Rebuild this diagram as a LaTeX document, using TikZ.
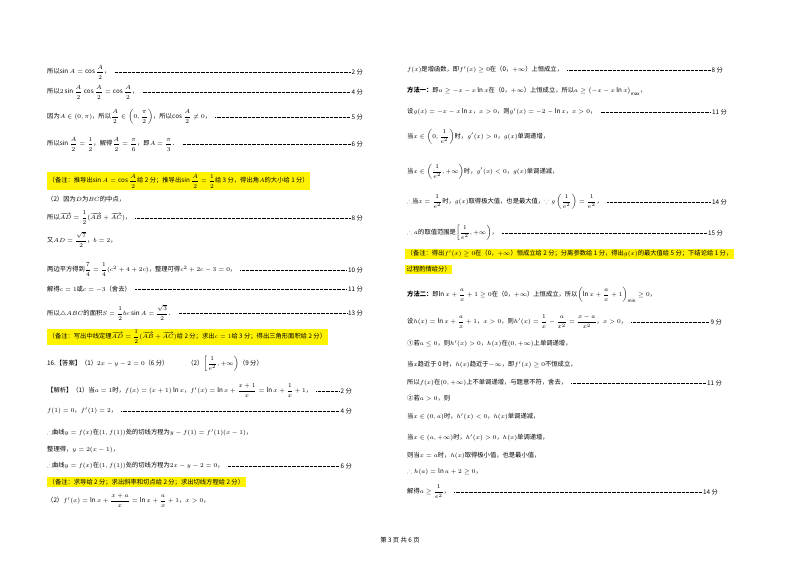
\documentclass[tikz,border=0pt]{standalone}
\usepackage{amsmath,amssymb}
\usepackage{fontspec}
\setmainfont{Noto Sans CJK SC}
\begin{document}
\fontsize{6.3}{8}\selectfont
\begin{tikzpicture}[x=1pt,y=-1pt,
 txt/.style={anchor=west,inner sep=1pt},
 sc/.style={anchor=east,inner sep=1pt},
 lead/.style={line width=0.4pt,dash pattern=on 0.5pt off 0.8pt},
 note/.style={anchor=west,fill=yellow,inner sep=1.5pt}]
\useasboundingbox (0,0) rectangle (800,566);
\fill[white] (0,0) rectangle (800,566);
\newcommand\scl[5]{\node[txt] (#1) at (#2) {#3}; \node[sc] (#1s) at (#4) {#5}; \draw[lead] (#1.east)++(3,0) -- (#1s.west);}
% left column
\scl{a1}{46,72}{所以$\sin A=\cos\dfrac{A}{2}$，}{364,72}{2 分}
\scl{a2}{46,92}{所以$2\sin\dfrac{A}{2}\cos\dfrac{A}{2}=\cos\dfrac{A}{2}$，}{364,92}{4 分}
\scl{a3}{46,117}{因为$A\in(0,\pi)$，所以$\dfrac{A}{2}\in\left(0,\dfrac{\pi}{2}\right)$，所以$\cos\dfrac{A}{2}\neq0$，}{364,117}{5 分}
\scl{a4}{46,144}{所以$\sin\dfrac{A}{2}=\dfrac12$，解得$\dfrac{A}{2}=\dfrac{\pi}{6}$，即$A=\dfrac{\pi}{3}$．}{364,144}{6 分}
\node[note] (n1) at (47,181) {（备注：推导出$\sin A=\cos\dfrac{A}{2}$给 2 分；推导出$\sin\dfrac{A}{2}=\dfrac12$给 3 分，得出角$A$的大小给 1 分）};
\node[txt] (a5) at (46,199) {（2）因为$D$为$BC$的中点，};
\scl{a6}{46,218}{所以$\overrightarrow{AD}=\dfrac12(\overrightarrow{AB}+\overrightarrow{AC})$，}{364,218}{8 分}
\node[txt] (a7) at (46,240) {又$AD=\dfrac{\sqrt7}{2}$，$b=2$，};
\scl{a8}{46,270}{两边平方得到$\dfrac74=\dfrac14(c^2+4+2c)$，整理可得$c^2+2c-3=0$，}{364,270}{10 分}
\scl{a9}{46,289}{解得$c=1$或$c=-3$（舍去）}{364,289}{11 分}
\scl{a10}{46,313}{所以$\triangle ABC$的面积$S=\dfrac12bc\sin A=\dfrac{\sqrt3}{2}$．}{364,313}{13 分}
\node[note] (n2) at (47,337) {（备注：写出中线定理$\overrightarrow{AD}=\dfrac12(\overrightarrow{AB}+\overrightarrow{AC})$给 2 分；求出$c=1$给 3 分；得出三角形面积给 2 分）};
\node[txt] (a11) at (46,364) {16.【答案】（1）$2x-y-2=0$（6 分）\qquad\quad（2）$\left[\dfrac{1}{e^2},+\infty\right)$（9 分）};
\scl{a12}{46,391}{【解析】（1）当$a=1$时，$f(x)=(x+1)\ln x$，$f'(x)=\ln x+\dfrac{x+1}{x}=\ln x+\dfrac1x+1$，}{353,391}{2 分}
\scl{a13}{46,411}{$f(1)=0$，$f'(1)=2$，}{353,411}{4 分}
\node[txt] (a14) at (46,433) {$\therefore$曲线$y=f(x)$在$(1,f(1))$处的切线方程为$y-f(1)=f'(1)(x-1)$，};
\node[txt] (a15) at (46,450) {整理得，$y=2(x-1)$，};
\scl{a16}{46,466}{$\therefore$曲线$y=f(x)$在$(1,f(1))$处的切线方程为$2x-y-2=0$，}{353,466}{6 分}
\node[note] (n3) at (47,482) {（备注：求导给 2 分；求出斜率和切点给 2 分；求出切线方程给 2 分）};
\node[txt] (a17) at (46,501) {（2）$f'(x)=\ln x+\dfrac{x+a}{x}=\ln x+\dfrac{a}{x}+1$，$x>0$，};
% right column
\scl{b1}{406,70}{$f(x)$是增函数，即$f'(x)\geq0$在（0，$+\infty$）上恒成立，}{724,70}{8 分}
\node[txt] (b2) at (406,91) {\textbf{方法一：}即$a\geq-x-x\ln x$在（0，$+\infty$）上恒成立，所以$a\geq\left(-x-x\ln x\right)_{\max}$，};
\scl{b3}{406,112}{设$g(x)=-x-x\ln x$，$x>0$，则$g'(x)=-2-\ln x$，$x>0$，}{728,112}{11 分}
\node[txt] (b4) at (406,137) {当$x\in\left(0,\dfrac{1}{e^2}\right)$时，$g'(x)>0$，$g(x)$单调递增，};
\node[txt] (b5) at (406,172) {当$x\in\left(\dfrac{1}{e^2},+\infty\right)$时，$g'(x)<0$，$g(x)$单调递减，};
\scl{b6}{406,202}{$\therefore$当$x=\dfrac{1}{e^2}$时，$g(x)$取得极大值，也是最大值，$\because g\left(\dfrac{1}{e^2}\right)=\dfrac{1}{e^2}$，}{728,202}{14 分}
\scl{b7}{406,233}{$\therefore a$的取值范围是$\left[\dfrac{1}{e^2},+\infty\right)$，}{724,233}{15 分}
\node[note] (n4) at (405,254) {（备注：得出$f'(x)\geq0$在（0，$+\infty$）恒成立给 2 分；分离参数给 1 分，得出$g(x)$的最大值给 5 分；下结论给 1 分，};
\node[note] (n5) at (405,269) {过程酌情给分）};
\node[txt] (b8) at (406,295) {\textbf{方法二：}即$\ln x+\dfrac{a}{x}+1\geq0$在（0，$+\infty$）上恒成立，所以$\left(\ln x+\dfrac{a}{x}+1\right)_{\min}\geq0$，};
\scl{b9}{406,322}{设$h(x)=\ln x+\dfrac{a}{x}+1$，$x>0$，则$h'(x)=\dfrac1x-\dfrac{a}{x^2}=\dfrac{x-a}{x^2}$，$x>0$，}{723,322}{9 分}
\node[txt] (b10) at (406,344) {①若$a\leq0$，则$h'(x)>0$，$h(x)$在$(0,+\infty)$上单调递增，};
\node[txt] (b11) at (406,365) {当$x$趋近于 0 时，$h(x)$趋近于$-\infty$，即$f'(x)\geq0$不恒成立，};
\scl{b12}{406,383}{所以$f(x)$在$(0,+\infty)$上不单调递增，与题意不符，舍去，}{723,383}{11 分}
\node[txt] (b13) at (406,398) {②若$a>0$，则};
\node[txt] (b14) at (406,417) {当$x\in(0,a)$时，$h'(x)<0$，$h(x)$单调递减，};
\node[txt] (b15) at (406,438) {当$x\in(a,+\infty)$时，$h'(x)>0$，$h(x)$单调递增，};
\node[txt] (b16) at (406,456) {则当$x=a$时，$h(x)$取得极小值，也是最小值，};
\node[txt] (b17) at (406,472) {$\therefore h(a)=\ln a+2\geq0$，};
\scl{b18}{406,492}{解得$a\geq\dfrac{1}{e^2}$，}{719,492}{14 分}
\node (ft) at (400,540) {第 3 页 共 6 页};
\end{tikzpicture}
\end{document}
